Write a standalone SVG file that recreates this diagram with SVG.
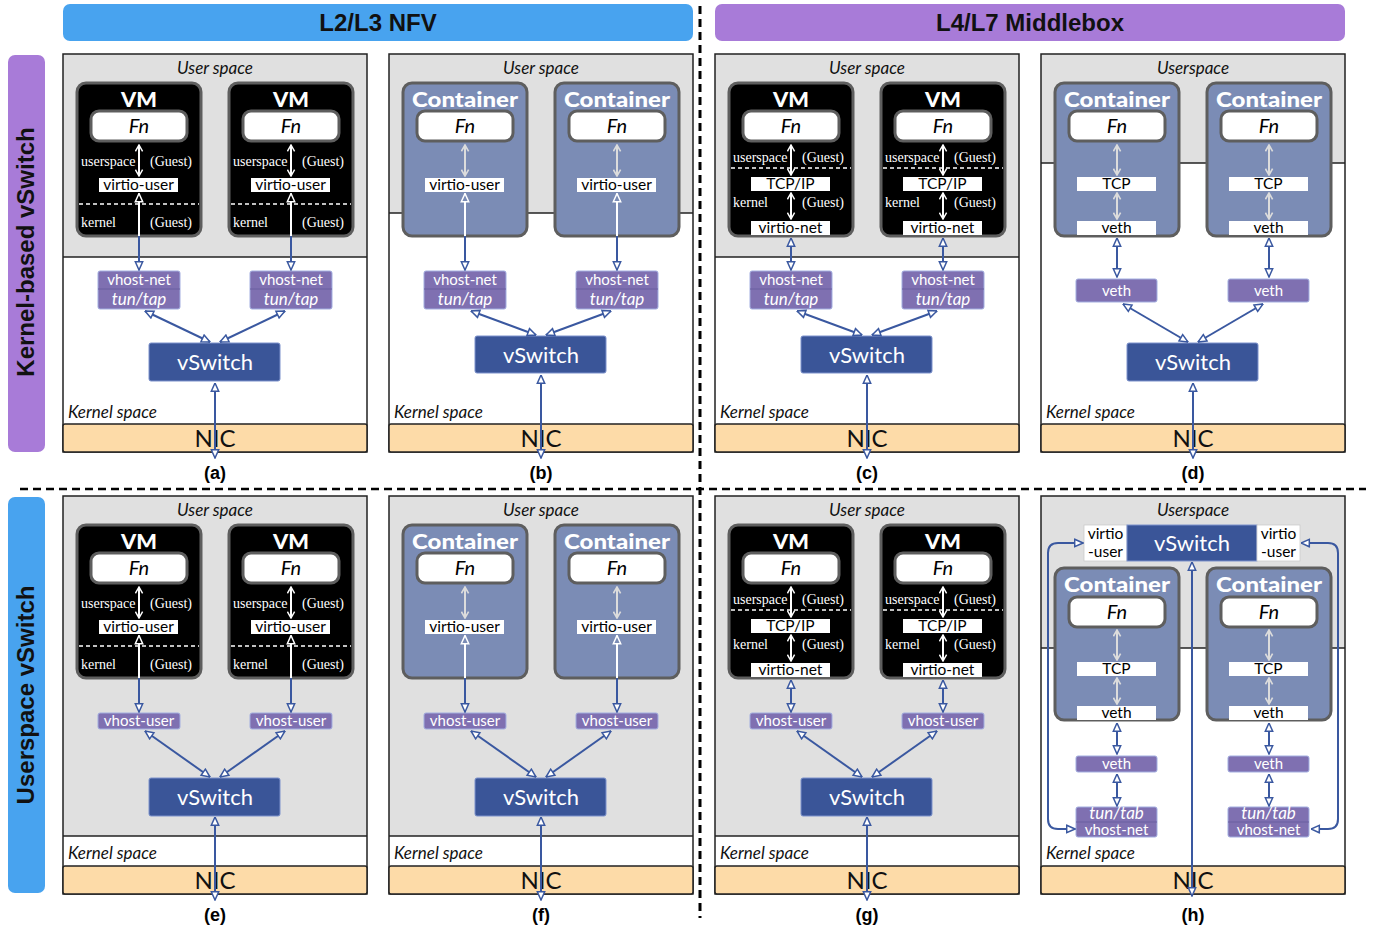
<svg xmlns="http://www.w3.org/2000/svg" width="1374" height="929" viewBox="0 0 1374 929">
<style>
text{font-family:Lato,"Open Sans",sans-serif}
.c{text-anchor:middle}
.e{text-anchor:end}
.usr{fill:#e0e0e0}
.bnd{stroke:#222;stroke-width:1.5}
.frm{fill:none;stroke:#222;stroke-width:1.5}
.vm{fill:#000;stroke:#5e5e5e;stroke-width:3}
.ct{fill:#7b8cb5;stroke:#5e5e5e;stroke-width:3}
.fn{fill:#fff;stroke:#5e5e5e;stroke-width:3}
.wb{fill:#fff}
.wb2{fill:#fff;stroke:#ccc;stroke-width:0.8}
.pb{fill:#7f70b1;stroke:#a3aee0;stroke-width:1}
.sep{stroke:#6a5ea0;stroke-width:1}
.vs{fill:#3a5598;stroke:#7c92cc;stroke-width:1}
.nic{fill:#fddba8;stroke:#222;stroke-width:1.5}
.dsh{stroke:#fff;stroke-width:1.5;stroke-dasharray:4 3}
.sp{font-style:italic;font-size:17px;fill:#111}
.vmt{font-weight:900;font-size:20px;fill:#fff}
.fnt{font-style:italic;font-size:20px;fill:#000}
.sr{font-family:"Liberation Serif",serif;font-size:14px;fill:#fff}
.wbt{font-size:15.5px;fill:#000}
.pbt{font-size:15px;fill:#fff}
.pit{font-style:italic;font-size:17px;fill:#fff}
.vst{font-size:22px;fill:#fff}
.nict{font-size:24px;fill:#111}
.lab{font-family:"Liberation Sans",Arial,sans-serif;font-weight:bold;font-size:18px;fill:#000}
.hdr{font-family:"Liberation Sans",Arial,sans-serif;font-weight:bold;font-size:24px;fill:#111}
.bl{stroke:#3a58a0;stroke-width:2;fill:none}
.wl{stroke:#fff;stroke-width:2;fill:none}
.gl{stroke:#dcdcdc;stroke-width:2;fill:none}
</style>
<defs>
<marker id="bo" viewBox="0 0 10 10" refX="9.5" refY="5" markerWidth="10" markerHeight="10" markerUnits="userSpaceOnUse" orient="auto-start-reverse"><path d="M1.2,1.3 L9.5,5 L1.2,8.7 Z" fill="#fff" stroke="#3a58a0" stroke-width="1.5"/></marker>
<marker id="wt" viewBox="0 0 10 10" refX="9.5" refY="5" markerWidth="10" markerHeight="10" markerUnits="userSpaceOnUse" orient="auto-start-reverse"><path d="M1.2,1.3 L9.5,5 L1.2,8.7 Z" fill="#000" stroke="#fff" stroke-width="1.5"/></marker>
<marker id="wtc" viewBox="0 0 10 10" refX="9.5" refY="5" markerWidth="10" markerHeight="10" markerUnits="userSpaceOnUse" orient="auto-start-reverse"><path d="M1.2,1.3 L9.5,5 L1.2,8.7 Z" fill="#7b8cb5" stroke="#fff" stroke-width="1.5"/></marker>
<marker id="wv" viewBox="0 0 10 10" refX="9" refY="5" markerWidth="9" markerHeight="9" markerUnits="userSpaceOnUse" orient="auto-start-reverse"><path d="M2,1 L9,5 L2,9" fill="none" stroke="#fff" stroke-width="1.6"/></marker>
<marker id="gv" viewBox="0 0 10 10" refX="9" refY="5" markerWidth="9" markerHeight="9" markerUnits="userSpaceOnUse" orient="auto-start-reverse"><path d="M2,1 L9,5 L2,9" fill="none" stroke="#dcdcdc" stroke-width="1.8"/></marker>
</defs>
<rect x="0" y="0" width="1374" height="929" fill="#fff"/>

<g id="hdr-l2l3"><rect x="63" y="4" width="630" height="37" rx="7" fill="#48a3ef"/><text class="hdr c" x="378" y="31">L2/L3 NFV</text></g>
<g id="hdr-l4l7"><rect x="715" y="4" width="630" height="37" rx="7" fill="#a87bd8"/><text class="hdr c" x="1030" y="31">L4/L7 Middlebox</text></g>
<g id="row-kernel"><rect x="8" y="55" width="37" height="397" rx="7" fill="#a87bd8"/><text class="hdr c" font-size="23" transform="translate(34,252) rotate(-90)">Kernel-based vSwitch</text></g>
<g id="row-user"><rect x="8" y="497" width="37" height="396" rx="7" fill="#48a3ef"/><text class="hdr c" font-size="23" transform="translate(34,695) rotate(-90)">Userspace vSwitch</text></g>
<g id="dividers">
<line x1="700" y1="6" x2="700" y2="918" stroke="#000" stroke-width="3" stroke-dasharray="8 5"/>
<line x1="20" y1="489" x2="1366" y2="489" stroke="#000" stroke-width="2.5" stroke-dasharray="8 5"/>
</g>

<!-- Panel a -->
<g id="panel-a" transform="translate(63,54)">
 <g id="a-frame"><rect x="0" y="0" width="304" height="398" fill="#fff"/><rect class="usr" x="0" y="0" width="304" height="203"/><line class="bnd" x1="0" y1="203" x2="304" y2="203"/><rect class="frm" x="0" y="0" width="304" height="398"/><text class="sp c" x="152" y="20">User space</text><text class="sp" x="5" y="364">Kernel space</text></g>
 <g id="a-vm1">
  <rect class="vm" x="14" y="29" width="124" height="153" rx="9"/><text class="vmt c" x="76" y="53" textLength="36" lengthAdjust="spacingAndGlyphs">VM</text>
  <rect class="fn" x="28" y="57" width="96" height="30" rx="8"/><text class="fnt c" x="76" y="79">Fn</text>
  <text class="sr" x="18" y="112">userspace</text><text class="sr e" x="129" y="112">(Guest)</text>
  <rect class="wb" x="36" y="124" width="79" height="14"/><text class="wbt c" x="75.5" y="136">virtio-user</text>
  <line class="dsh" x1="16" y1="150" x2="136" y2="150"/>
  <text class="sr" x="18" y="173">kernel</text><text class="sr e" x="129" y="173">(Guest)</text>
 </g>
 <g id="a-vm2" transform="translate(152,0)">
  <rect class="vm" x="14" y="29" width="124" height="153" rx="9"/><text class="vmt c" x="76" y="53" textLength="36" lengthAdjust="spacingAndGlyphs">VM</text>
  <rect class="fn" x="28" y="57" width="96" height="30" rx="8"/><text class="fnt c" x="76" y="79">Fn</text>
  <text class="sr" x="18" y="112">userspace</text><text class="sr e" x="129" y="112">(Guest)</text>
  <rect class="wb" x="36" y="124" width="79" height="14"/><text class="wbt c" x="75.5" y="136">virtio-user</text>
  <line class="dsh" x1="16" y1="150" x2="136" y2="150"/>
  <text class="sr" x="18" y="173">kernel</text><text class="sr e" x="129" y="173">(Guest)</text>
 </g>
 <g id="a-vhost1"><rect class="pb" x="35" y="217" width="82" height="38" rx="2"/><line class="sep" x1="35" y1="235" x2="117" y2="235"/><text class="pbt c" x="76" y="231">vhost-net</text><text class="pit c" x="76" y="251">tun/tap</text></g>
 <g id="a-vhost2" transform="translate(152,0)"><rect class="pb" x="35" y="217" width="82" height="38" rx="2"/><line class="sep" x1="35" y1="235" x2="117" y2="235"/><text class="pbt c" x="76" y="231">vhost-net</text><text class="pit c" x="76" y="251">tun/tap</text></g>
 <g id="a-vswitch"><rect class="vs" x="86" y="289" width="131" height="38" rx="2"/><text class="vst c" x="152" y="316">vSwitch</text></g>
 <g id="a-nic"><rect class="nic" x="0" y="370" width="304" height="28" rx="2"/><text class="nict c" x="152" y="393">NIC</text></g>
 <text class="lab c" x="152" y="425">(a)</text>
</g>

<!-- Panel b -->
<g id="panel-b" transform="translate(389,54)">
 <g id="b-frame"><rect x="0" y="0" width="304" height="398" fill="#fff"/><rect class="usr" x="0" y="0" width="304" height="159"/><line class="bnd" x1="0" y1="159" x2="304" y2="159"/><rect class="frm" x="0" y="0" width="304" height="398"/><text class="sp c" x="152" y="20">User space</text><text class="sp" x="5" y="364">Kernel space</text></g>
 <g id="b-ct1">
  <rect class="ct" x="14" y="29" width="124" height="153" rx="9"/><text class="vmt c" x="76" y="53" textLength="106" lengthAdjust="spacingAndGlyphs">Container</text>
  <rect class="fn" x="28" y="57" width="96" height="30" rx="8"/><text class="fnt c" x="76" y="79">Fn</text>
  <rect class="wb" x="36" y="124" width="79" height="14"/><text class="wbt c" x="75.5" y="136">virtio-user</text>
 </g>
 <g id="b-ct2" transform="translate(152,0)">
  <rect class="ct" x="14" y="29" width="124" height="153" rx="9"/><text class="vmt c" x="76" y="53" textLength="106" lengthAdjust="spacingAndGlyphs">Container</text>
  <rect class="fn" x="28" y="57" width="96" height="30" rx="8"/><text class="fnt c" x="76" y="79">Fn</text>
  <rect class="wb" x="36" y="124" width="79" height="14"/><text class="wbt c" x="75.5" y="136">virtio-user</text>
 </g>
 <g id="b-vhost1"><rect class="pb" x="35" y="217" width="82" height="38" rx="2"/><line class="sep" x1="35" y1="235" x2="117" y2="235"/><text class="pbt c" x="76" y="231">vhost-net</text><text class="pit c" x="76" y="251">tun/tap</text></g>
 <g id="b-vhost2" transform="translate(152,0)"><rect class="pb" x="35" y="217" width="82" height="38" rx="2"/><line class="sep" x1="35" y1="235" x2="117" y2="235"/><text class="pbt c" x="76" y="231">vhost-net</text><text class="pit c" x="76" y="251">tun/tap</text></g>
 <g id="b-vswitch"><rect class="vs" x="86" y="282" width="131" height="37" rx="2"/><text class="vst c" x="152" y="309">vSwitch</text></g>
 <g id="b-nic"><rect class="nic" x="0" y="370" width="304" height="28" rx="2"/><text class="nict c" x="152" y="393">NIC</text></g>
 <text class="lab c" x="152" y="425">(b)</text>
</g>

<!-- Panel c -->
<g id="panel-c" transform="translate(715,54)">
 <g id="c-frame"><rect x="0" y="0" width="304" height="398" fill="#fff"/><rect class="usr" x="0" y="0" width="304" height="203"/><line class="bnd" x1="0" y1="203" x2="304" y2="203"/><rect class="frm" x="0" y="0" width="304" height="398"/><text class="sp c" x="152" y="20">User space</text><text class="sp" x="5" y="364">Kernel space</text></g>
 <g id="c-vm1">
  <rect class="vm" x="14" y="29" width="124" height="153" rx="9"/><text class="vmt c" x="76" y="53" textLength="36" lengthAdjust="spacingAndGlyphs">VM</text>
  <rect class="fn" x="28" y="57" width="96" height="30" rx="8"/><text class="fnt c" x="76" y="79">Fn</text>
  <text class="sr" x="18" y="108">userspace</text><text class="sr e" x="129" y="108">(Guest)</text>
  <line class="dsh" x1="16" y1="114" x2="136" y2="114"/>
  <rect class="wb" x="36" y="123" width="79" height="14"/><text class="wbt c" x="75.5" y="135">TCP/IP</text>
  <text class="sr" x="18" y="153">kernel</text><text class="sr e" x="129" y="153">(Guest)</text>
  <rect class="wb" x="36" y="167" width="79" height="14"/><text class="wbt c" x="75.5" y="179">virtio-net</text>
 </g>
 <g id="c-vm2" transform="translate(152,0)">
  <rect class="vm" x="14" y="29" width="124" height="153" rx="9"/><text class="vmt c" x="76" y="53" textLength="36" lengthAdjust="spacingAndGlyphs">VM</text>
  <rect class="fn" x="28" y="57" width="96" height="30" rx="8"/><text class="fnt c" x="76" y="79">Fn</text>
  <text class="sr" x="18" y="108">userspace</text><text class="sr e" x="129" y="108">(Guest)</text>
  <line class="dsh" x1="16" y1="114" x2="136" y2="114"/>
  <rect class="wb" x="36" y="123" width="79" height="14"/><text class="wbt c" x="75.5" y="135">TCP/IP</text>
  <text class="sr" x="18" y="153">kernel</text><text class="sr e" x="129" y="153">(Guest)</text>
  <rect class="wb" x="36" y="167" width="79" height="14"/><text class="wbt c" x="75.5" y="179">virtio-net</text>
 </g>
 <g id="c-vhost1"><rect class="pb" x="35" y="217" width="82" height="38" rx="2"/><line class="sep" x1="35" y1="235" x2="117" y2="235"/><text class="pbt c" x="76" y="231">vhost-net</text><text class="pit c" x="76" y="251">tun/tap</text></g>
 <g id="c-vhost2" transform="translate(152,0)"><rect class="pb" x="35" y="217" width="82" height="38" rx="2"/><line class="sep" x1="35" y1="235" x2="117" y2="235"/><text class="pbt c" x="76" y="231">vhost-net</text><text class="pit c" x="76" y="251">tun/tap</text></g>
 <g id="c-vswitch"><rect class="vs" x="86" y="282" width="131" height="37" rx="2"/><text class="vst c" x="152" y="309">vSwitch</text></g>
 <g id="c-nic"><rect class="nic" x="0" y="370" width="304" height="28" rx="2"/><text class="nict c" x="152" y="393">NIC</text></g>
 <text class="lab c" x="152" y="425">(c)</text>
</g>

<!-- Panel d -->
<g id="panel-d" transform="translate(1041,54)">
 <g id="d-frame"><rect x="0" y="0" width="304" height="398" fill="#fff"/><rect class="usr" x="0" y="0" width="304" height="109"/><line class="bnd" x1="0" y1="109" x2="304" y2="109"/><rect class="frm" x="0" y="0" width="304" height="398"/><text class="sp c" x="152" y="20">Userspace</text><text class="sp" x="5" y="364">Kernel space</text></g>
 <g id="d-ct1">
  <rect class="ct" x="14" y="29" width="124" height="153" rx="9"/><text class="vmt c" x="76" y="53" textLength="106" lengthAdjust="spacingAndGlyphs">Container</text>
  <rect class="fn" x="28" y="57" width="96" height="30" rx="8"/><text class="fnt c" x="76" y="79">Fn</text>
  <rect class="wb" x="36" y="123" width="79" height="14"/><text class="wbt c" x="75.5" y="135">TCP</text>
  <rect class="wb" x="36" y="167" width="79" height="14"/><text class="wbt c" x="75.5" y="179">veth</text>
 </g>
 <g id="d-ct2" transform="translate(152,0)">
  <rect class="ct" x="14" y="29" width="124" height="153" rx="9"/><text class="vmt c" x="76" y="53" textLength="106" lengthAdjust="spacingAndGlyphs">Container</text>
  <rect class="fn" x="28" y="57" width="96" height="30" rx="8"/><text class="fnt c" x="76" y="79">Fn</text>
  <rect class="wb" x="36" y="123" width="79" height="14"/><text class="wbt c" x="75.5" y="135">TCP</text>
  <rect class="wb" x="36" y="167" width="79" height="14"/><text class="wbt c" x="75.5" y="179">veth</text>
 </g>
 <g id="d-veth1"><rect class="pb" x="35" y="225" width="81" height="23" rx="2"/><text class="pbt c" x="75.5" y="242">veth</text></g>
 <g id="d-veth2" transform="translate(152,0)"><rect class="pb" x="35" y="225" width="81" height="23" rx="2"/><text class="pbt c" x="75.5" y="242">veth</text></g>
 <g id="d-vswitch"><rect class="vs" x="86" y="289" width="131" height="38" rx="2"/><text class="vst c" x="152" y="316">vSwitch</text></g>
 <g id="d-nic"><rect class="nic" x="0" y="370" width="304" height="28" rx="2"/><text class="nict c" x="152" y="393">NIC</text></g>
 <text class="lab c" x="152" y="425">(d)</text>
</g>

<!-- Panel e -->
<g id="panel-e" transform="translate(63,496)">
 <g id="e-frame"><rect x="0" y="0" width="304" height="398" fill="#fff"/><rect class="usr" x="0" y="0" width="304" height="340"/><line class="bnd" x1="0" y1="340" x2="304" y2="340"/><rect class="frm" x="0" y="0" width="304" height="398"/><text class="sp c" x="152" y="20">User space</text><text class="sp" x="5" y="363">Kernel space</text></g>
 <g id="e-vm1">
  <rect class="vm" x="14" y="29" width="124" height="153" rx="9"/><text class="vmt c" x="76" y="53" textLength="36" lengthAdjust="spacingAndGlyphs">VM</text>
  <rect class="fn" x="28" y="57" width="96" height="30" rx="8"/><text class="fnt c" x="76" y="79">Fn</text>
  <text class="sr" x="18" y="112">userspace</text><text class="sr e" x="129" y="112">(Guest)</text>
  <rect class="wb" x="36" y="124" width="79" height="14"/><text class="wbt c" x="75.5" y="136">virtio-user</text>
  <line class="dsh" x1="16" y1="150" x2="136" y2="150"/>
  <text class="sr" x="18" y="173">kernel</text><text class="sr e" x="129" y="173">(Guest)</text>
 </g>
 <g id="e-vm2" transform="translate(152,0)">
  <rect class="vm" x="14" y="29" width="124" height="153" rx="9"/><text class="vmt c" x="76" y="53" textLength="36" lengthAdjust="spacingAndGlyphs">VM</text>
  <rect class="fn" x="28" y="57" width="96" height="30" rx="8"/><text class="fnt c" x="76" y="79">Fn</text>
  <text class="sr" x="18" y="112">userspace</text><text class="sr e" x="129" y="112">(Guest)</text>
  <rect class="wb" x="36" y="124" width="79" height="14"/><text class="wbt c" x="75.5" y="136">virtio-user</text>
  <line class="dsh" x1="16" y1="150" x2="136" y2="150"/>
  <text class="sr" x="18" y="173">kernel</text><text class="sr e" x="129" y="173">(Guest)</text>
 </g>
 <g id="e-vhost1"><rect class="pb" x="35" y="217" width="82" height="16" rx="2"/><text class="pbt c" x="76" y="230">vhost-user</text></g>
 <g id="e-vhost2" transform="translate(152,0)"><rect class="pb" x="35" y="217" width="82" height="16" rx="2"/><text class="pbt c" x="76" y="230">vhost-user</text></g>
 <g id="e-vswitch"><rect class="vs" x="86" y="282" width="131" height="38" rx="2"/><text class="vst c" x="152" y="309">vSwitch</text></g>
 <g id="e-nic"><rect class="nic" x="0" y="370" width="304" height="28" rx="2"/><text class="nict c" x="152" y="393">NIC</text></g>
 <text class="lab c" x="152" y="425">(e)</text>
</g>

<!-- Panel f -->
<g id="panel-f" transform="translate(389,496)">
 <g id="f-frame"><rect x="0" y="0" width="304" height="398" fill="#fff"/><rect class="usr" x="0" y="0" width="304" height="340"/><line class="bnd" x1="0" y1="340" x2="304" y2="340"/><rect class="frm" x="0" y="0" width="304" height="398"/><text class="sp c" x="152" y="20">User space</text><text class="sp" x="5" y="363">Kernel space</text></g>
 <g id="f-ct1">
  <rect class="ct" x="14" y="29" width="124" height="153" rx="9"/><text class="vmt c" x="76" y="53" textLength="106" lengthAdjust="spacingAndGlyphs">Container</text>
  <rect class="fn" x="28" y="57" width="96" height="30" rx="8"/><text class="fnt c" x="76" y="79">Fn</text>
  <rect class="wb" x="36" y="124" width="79" height="14"/><text class="wbt c" x="75.5" y="136">virtio-user</text>
 </g>
 <g id="f-ct2" transform="translate(152,0)">
  <rect class="ct" x="14" y="29" width="124" height="153" rx="9"/><text class="vmt c" x="76" y="53" textLength="106" lengthAdjust="spacingAndGlyphs">Container</text>
  <rect class="fn" x="28" y="57" width="96" height="30" rx="8"/><text class="fnt c" x="76" y="79">Fn</text>
  <rect class="wb" x="36" y="124" width="79" height="14"/><text class="wbt c" x="75.5" y="136">virtio-user</text>
 </g>
 <g id="f-vhost1"><rect class="pb" x="35" y="217" width="82" height="16" rx="2"/><text class="pbt c" x="76" y="230">vhost-user</text></g>
 <g id="f-vhost2" transform="translate(152,0)"><rect class="pb" x="35" y="217" width="82" height="16" rx="2"/><text class="pbt c" x="76" y="230">vhost-user</text></g>
 <g id="f-vswitch"><rect class="vs" x="86" y="282" width="131" height="38" rx="2"/><text class="vst c" x="152" y="309">vSwitch</text></g>
 <g id="f-nic"><rect class="nic" x="0" y="370" width="304" height="28" rx="2"/><text class="nict c" x="152" y="393">NIC</text></g>
 <text class="lab c" x="152" y="425">(f)</text>
</g>

<!-- Panel g -->
<g id="panel-g" transform="translate(715,496)">
 <g id="g-frame"><rect x="0" y="0" width="304" height="398" fill="#fff"/><rect class="usr" x="0" y="0" width="304" height="340"/><line class="bnd" x1="0" y1="340" x2="304" y2="340"/><rect class="frm" x="0" y="0" width="304" height="398"/><text class="sp c" x="152" y="20">User space</text><text class="sp" x="5" y="363">Kernel space</text></g>
 <g id="g-vm1">
  <rect class="vm" x="14" y="29" width="124" height="153" rx="9"/><text class="vmt c" x="76" y="53" textLength="36" lengthAdjust="spacingAndGlyphs">VM</text>
  <rect class="fn" x="28" y="57" width="96" height="30" rx="8"/><text class="fnt c" x="76" y="79">Fn</text>
  <text class="sr" x="18" y="108">userspace</text><text class="sr e" x="129" y="108">(Guest)</text>
  <line class="dsh" x1="16" y1="114" x2="136" y2="114"/>
  <rect class="wb" x="36" y="123" width="79" height="14"/><text class="wbt c" x="75.5" y="135">TCP/IP</text>
  <text class="sr" x="18" y="153">kernel</text><text class="sr e" x="129" y="153">(Guest)</text>
  <rect class="wb" x="36" y="167" width="79" height="14"/><text class="wbt c" x="75.5" y="179">virtio-net</text>
 </g>
 <g id="g-vm2" transform="translate(152,0)">
  <rect class="vm" x="14" y="29" width="124" height="153" rx="9"/><text class="vmt c" x="76" y="53" textLength="36" lengthAdjust="spacingAndGlyphs">VM</text>
  <rect class="fn" x="28" y="57" width="96" height="30" rx="8"/><text class="fnt c" x="76" y="79">Fn</text>
  <text class="sr" x="18" y="108">userspace</text><text class="sr e" x="129" y="108">(Guest)</text>
  <line class="dsh" x1="16" y1="114" x2="136" y2="114"/>
  <rect class="wb" x="36" y="123" width="79" height="14"/><text class="wbt c" x="75.5" y="135">TCP/IP</text>
  <text class="sr" x="18" y="153">kernel</text><text class="sr e" x="129" y="153">(Guest)</text>
  <rect class="wb" x="36" y="167" width="79" height="14"/><text class="wbt c" x="75.5" y="179">virtio-net</text>
 </g>
 <g id="g-vhost1"><rect class="pb" x="35" y="217" width="82" height="16" rx="2"/><text class="pbt c" x="76" y="230">vhost-user</text></g>
 <g id="g-vhost2" transform="translate(152,0)"><rect class="pb" x="35" y="217" width="82" height="16" rx="2"/><text class="pbt c" x="76" y="230">vhost-user</text></g>
 <g id="g-vswitch"><rect class="vs" x="86" y="282" width="131" height="38" rx="2"/><text class="vst c" x="152" y="309">vSwitch</text></g>
 <g id="g-nic"><rect class="nic" x="0" y="370" width="304" height="28" rx="2"/><text class="nict c" x="152" y="393">NIC</text></g>
 <text class="lab c" x="152" y="425">(g)</text>
</g>

<!-- Panel h -->
<g id="panel-h" transform="translate(1041,496)">
 <g id="h-frame"><rect x="0" y="0" width="304" height="398" fill="#fff"/><rect class="usr" x="0" y="0" width="304" height="152"/><line class="bnd" x1="0" y1="152" x2="304" y2="152"/><rect class="frm" x="0" y="0" width="304" height="398"/><text class="sp c" x="152" y="20">Userspace</text><text class="sp" x="5" y="363">Kernel space</text></g>
 <g id="h-vswitch">
  <rect class="wb2" x="43" y="29" width="43" height="36"/><text class="wbt c" font-size="14.5" x="64.5" y="43">virtio</text><text class="wbt c" font-size="14.5" x="64.5" y="61">-user</text>
  <rect class="vs" x="86" y="29" width="130" height="36"/><text class="vst c" x="151" y="55">vSwitch</text>
  <rect class="wb2" x="216" y="29" width="43" height="36"/><text class="wbt c" font-size="14.5" x="237.5" y="43">virtio</text><text class="wbt c" font-size="14.5" x="237.5" y="61">-user</text>
 </g>
 <g id="h-ct1">
  <rect class="ct" x="14" y="72" width="124" height="152" rx="9"/><text class="vmt c" x="76" y="96" textLength="106" lengthAdjust="spacingAndGlyphs">Container</text>
  <rect class="fn" x="28" y="101" width="96" height="30" rx="8"/><text class="fnt c" x="76" y="123">Fn</text>
  <rect class="wb" x="36" y="166" width="79" height="14"/><text class="wbt c" x="75.5" y="178">TCP</text>
  <rect class="wb" x="36" y="210" width="79" height="14"/><text class="wbt c" x="75.5" y="222">veth</text>
 </g>
 <g id="h-ct2" transform="translate(152,0)">
  <rect class="ct" x="14" y="72" width="124" height="152" rx="9"/><text class="vmt c" x="76" y="96" textLength="106" lengthAdjust="spacingAndGlyphs">Container</text>
  <rect class="fn" x="28" y="101" width="96" height="30" rx="8"/><text class="fnt c" x="76" y="123">Fn</text>
  <rect class="wb" x="36" y="166" width="79" height="14"/><text class="wbt c" x="75.5" y="178">TCP</text>
  <rect class="wb" x="36" y="210" width="79" height="14"/><text class="wbt c" x="75.5" y="222">veth</text>
 </g>
 <g id="h-veth1"><rect class="pb" x="35" y="260" width="81" height="16" rx="2"/><text class="pbt c" x="75.5" y="273">veth</text></g>
 <g id="h-veth2" transform="translate(152,0)"><rect class="pb" x="35" y="260" width="81" height="16" rx="2"/><text class="pbt c" x="75.5" y="273">veth</text></g>
 <g id="h-tap1"><rect class="pb" x="35" y="311" width="81" height="30" rx="2"/><line class="sep" x1="35" y1="326" x2="116" y2="326"/><text class="pit c" font-size="12.5" x="75.5" y="322.5">tun/tab</text><text class="pbt c" font-size="13" x="75.5" y="339">vhost-net</text></g>
 <g id="h-tap2" transform="translate(152,0)"><rect class="pb" x="35" y="311" width="81" height="30" rx="2"/><line class="sep" x1="35" y1="326" x2="116" y2="326"/><text class="pit c" font-size="12.5" x="75.5" y="322.5">tun/tab</text><text class="pbt c" font-size="13" x="75.5" y="339">vhost-net</text></g>
 <g id="h-nic"><rect class="nic" x="0" y="370" width="304" height="28" rx="2"/><text class="nict c" x="152" y="393">NIC</text></g>
 <text class="lab c" x="152" y="425">(h)</text>
</g>

<g id="connectors">
 <g id="conn-a" transform="translate(63,54)">
  <line class="wl" x1="76" y1="91" x2="76" y2="122" marker-start="url(#wv)" marker-end="url(#wv)"/>
  <line class="wl" x1="228" y1="91" x2="228" y2="122" marker-start="url(#wv)" marker-end="url(#wv)"/>
  <line class="wl" x1="76" y1="182" x2="76" y2="139.5" marker-end="url(#wt)"/>
  <line class="wl" x1="228" y1="182" x2="228" y2="139.5" marker-end="url(#wt)"/>
  <line class="bl" x1="76" y1="182" x2="76" y2="216" marker-end="url(#bo)"/>
  <line class="bl" x1="228" y1="182" x2="228" y2="216" marker-end="url(#bo)"/>
  <line class="bl" x1="82" y1="257" x2="147" y2="288" marker-start="url(#bo)" marker-end="url(#bo)"/>
  <line class="bl" x1="222" y1="257" x2="157" y2="288" marker-start="url(#bo)" marker-end="url(#bo)"/>
  <line class="bl" x1="152" y1="329" x2="152" y2="404" marker-start="url(#bo)" marker-end="url(#bo)"/>
 </g>
 <g id="conn-b" transform="translate(389,54)">
  <line class="gl" x1="76" y1="91" x2="76" y2="122" marker-start="url(#gv)" marker-end="url(#gv)"/>
  <line class="gl" x1="228" y1="91" x2="228" y2="122" marker-start="url(#gv)" marker-end="url(#gv)"/>
  <line class="wl" x1="76" y1="182" x2="76" y2="139.5" marker-end="url(#wtc)"/>
  <line class="wl" x1="228" y1="182" x2="228" y2="139.5" marker-end="url(#wtc)"/>
  <line class="bl" x1="76" y1="182" x2="76" y2="216" marker-end="url(#bo)"/>
  <line class="bl" x1="228" y1="182" x2="228" y2="216" marker-end="url(#bo)"/>
  <line class="bl" x1="82" y1="257" x2="147" y2="281" marker-start="url(#bo)" marker-end="url(#bo)"/>
  <line class="bl" x1="222" y1="257" x2="157" y2="281" marker-start="url(#bo)" marker-end="url(#bo)"/>
  <line class="bl" x1="152" y1="321" x2="152" y2="404" marker-start="url(#bo)" marker-end="url(#bo)"/>
 </g>
 <g id="conn-c" transform="translate(715,54)">
  <line class="wl" x1="76" y1="91" x2="76" y2="121" marker-start="url(#wv)" marker-end="url(#wv)"/>
  <line class="wl" x1="228" y1="91" x2="228" y2="121" marker-start="url(#wv)" marker-end="url(#wv)"/>
  <line class="wl" x1="76" y1="139" x2="76" y2="165" marker-start="url(#wv)" marker-end="url(#wv)"/>
  <line class="wl" x1="228" y1="139" x2="228" y2="165" marker-start="url(#wv)" marker-end="url(#wv)"/>
  <line class="bl" x1="76" y1="184" x2="76" y2="216" marker-start="url(#bo)" marker-end="url(#bo)"/>
  <line class="bl" x1="228" y1="184" x2="228" y2="216" marker-start="url(#bo)" marker-end="url(#bo)"/>
  <line class="bl" x1="82" y1="257" x2="147" y2="281" marker-start="url(#bo)" marker-end="url(#bo)"/>
  <line class="bl" x1="222" y1="257" x2="157" y2="281" marker-start="url(#bo)" marker-end="url(#bo)"/>
  <line class="bl" x1="152" y1="321" x2="152" y2="404" marker-start="url(#bo)" marker-end="url(#bo)"/>
 </g>
 <g id="conn-d" transform="translate(1041,54)">
  <line class="gl" x1="76" y1="91" x2="76" y2="121" marker-start="url(#gv)" marker-end="url(#gv)"/>
  <line class="gl" x1="228" y1="91" x2="228" y2="121" marker-start="url(#gv)" marker-end="url(#gv)"/>
  <line class="gl" x1="76" y1="139" x2="76" y2="165" marker-start="url(#gv)" marker-end="url(#gv)"/>
  <line class="gl" x1="228" y1="139" x2="228" y2="165" marker-start="url(#gv)" marker-end="url(#gv)"/>
  <line class="bl" x1="76" y1="184" x2="76" y2="223" marker-start="url(#bo)" marker-end="url(#bo)"/>
  <line class="bl" x1="228" y1="184" x2="228" y2="223" marker-start="url(#bo)" marker-end="url(#bo)"/>
  <line class="bl" x1="82" y1="250" x2="147" y2="288" marker-start="url(#bo)" marker-end="url(#bo)"/>
  <line class="bl" x1="222" y1="250" x2="157" y2="288" marker-start="url(#bo)" marker-end="url(#bo)"/>
  <line class="bl" x1="152" y1="329" x2="152" y2="404" marker-start="url(#bo)" marker-end="url(#bo)"/>
 </g>
 <g id="conn-e" transform="translate(63,496)">
  <line class="wl" x1="76" y1="91" x2="76" y2="122" marker-start="url(#wv)" marker-end="url(#wv)"/>
  <line class="wl" x1="228" y1="91" x2="228" y2="122" marker-start="url(#wv)" marker-end="url(#wv)"/>
  <line class="wl" x1="76" y1="182" x2="76" y2="139.5" marker-end="url(#wt)"/>
  <line class="wl" x1="228" y1="182" x2="228" y2="139.5" marker-end="url(#wt)"/>
  <line class="bl" x1="76" y1="182" x2="76" y2="216" marker-end="url(#bo)"/>
  <line class="bl" x1="228" y1="182" x2="228" y2="216" marker-end="url(#bo)"/>
  <line class="bl" x1="82" y1="235" x2="147" y2="281" marker-start="url(#bo)" marker-end="url(#bo)"/>
  <line class="bl" x1="222" y1="235" x2="157" y2="281" marker-start="url(#bo)" marker-end="url(#bo)"/>
  <line class="bl" x1="152" y1="321" x2="152" y2="404" marker-start="url(#bo)" marker-end="url(#bo)"/>
 </g>
 <g id="conn-f" transform="translate(389,496)">
  <line class="gl" x1="76" y1="91" x2="76" y2="122" marker-start="url(#gv)" marker-end="url(#gv)"/>
  <line class="gl" x1="228" y1="91" x2="228" y2="122" marker-start="url(#gv)" marker-end="url(#gv)"/>
  <line class="wl" x1="76" y1="182" x2="76" y2="139.5" marker-end="url(#wtc)"/>
  <line class="wl" x1="228" y1="182" x2="228" y2="139.5" marker-end="url(#wtc)"/>
  <line class="bl" x1="76" y1="182" x2="76" y2="216" marker-end="url(#bo)"/>
  <line class="bl" x1="228" y1="182" x2="228" y2="216" marker-end="url(#bo)"/>
  <line class="bl" x1="82" y1="235" x2="147" y2="281" marker-start="url(#bo)" marker-end="url(#bo)"/>
  <line class="bl" x1="222" y1="235" x2="157" y2="281" marker-start="url(#bo)" marker-end="url(#bo)"/>
  <line class="bl" x1="152" y1="321" x2="152" y2="404" marker-start="url(#bo)" marker-end="url(#bo)"/>
 </g>
 <g id="conn-g" transform="translate(715,496)">
  <line class="wl" x1="76" y1="91" x2="76" y2="121" marker-start="url(#wv)" marker-end="url(#wv)"/>
  <line class="wl" x1="228" y1="91" x2="228" y2="121" marker-start="url(#wv)" marker-end="url(#wv)"/>
  <line class="wl" x1="76" y1="139" x2="76" y2="165" marker-start="url(#wv)" marker-end="url(#wv)"/>
  <line class="wl" x1="228" y1="139" x2="228" y2="165" marker-start="url(#wv)" marker-end="url(#wv)"/>
  <line class="bl" x1="76" y1="184" x2="76" y2="216" marker-start="url(#bo)" marker-end="url(#bo)"/>
  <line class="bl" x1="228" y1="184" x2="228" y2="216" marker-start="url(#bo)" marker-end="url(#bo)"/>
  <line class="bl" x1="82" y1="235" x2="147" y2="281" marker-start="url(#bo)" marker-end="url(#bo)"/>
  <line class="bl" x1="222" y1="235" x2="157" y2="281" marker-start="url(#bo)" marker-end="url(#bo)"/>
  <line class="bl" x1="152" y1="321" x2="152" y2="404" marker-start="url(#bo)" marker-end="url(#bo)"/>
 </g>
 <g id="conn-h" transform="translate(1041,496)">
  <line class="gl" x1="76" y1="134" x2="76" y2="164" marker-start="url(#gv)" marker-end="url(#gv)"/>
  <line class="gl" x1="228" y1="134" x2="228" y2="164" marker-start="url(#gv)" marker-end="url(#gv)"/>
  <line class="gl" x1="76" y1="182" x2="76" y2="208" marker-start="url(#gv)" marker-end="url(#gv)"/>
  <line class="gl" x1="228" y1="182" x2="228" y2="208" marker-start="url(#gv)" marker-end="url(#gv)"/>
  <line class="bl" x1="76" y1="227" x2="76" y2="258" marker-start="url(#bo)" marker-end="url(#bo)"/>
  <line class="bl" x1="228" y1="227" x2="228" y2="258" marker-start="url(#bo)" marker-end="url(#bo)"/>
  <line class="bl" x1="76" y1="278" x2="76" y2="310" marker-start="url(#bo)" marker-end="url(#bo)"/>
  <line class="bl" x1="228" y1="278" x2="228" y2="310" marker-start="url(#bo)" marker-end="url(#bo)"/>
  <path class="bl" d="M42,47 L17,47 Q7,47 7,57 L7,323 Q7,333 17,333 L34,333" marker-start="url(#bo)" marker-end="url(#bo)"/>
  <path class="bl" d="M260,47 L287,47 Q297,47 297,57 L297,323 Q297,333 287,333 L270,333" marker-start="url(#bo)" marker-end="url(#bo)"/>
  <line class="bl" x1="151" y1="66" x2="151" y2="400" marker-start="url(#bo)" marker-end="url(#bo)"/>
 </g>
</g>
</svg>
